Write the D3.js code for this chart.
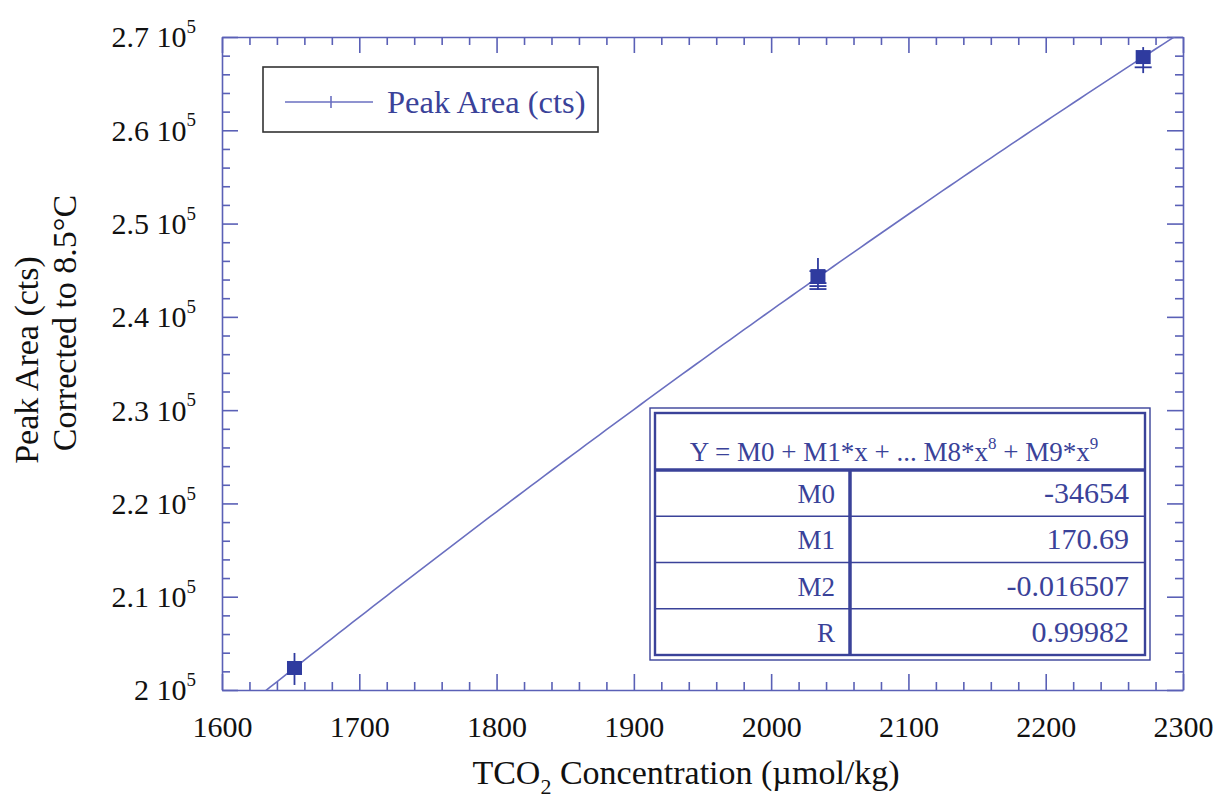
<!DOCTYPE html>
<html>
<head>
<meta charset="utf-8">
<script src="https://cdn.jsdelivr.net/npm/d3@7"></script>
<style>
  html, body { margin: 0; padding: 0; background: #fff; }
  svg text { font-family: "Liberation Serif", "DejaVu Serif", serif; }
</style>
</head>
<body>
<div id="chart"></div>
<script>
// data
const meanX = [1652.8, 2034.1, 2271.0];
const meanY = [202360, 244370, 267850];
const errLow = [200540, 242870, 266130];
const errHigh = [203970, 246300, 268920];
const repX = [2034.1, 2034.1, 2034.1, 2034.1, 2271.0];
const repY = [244900, 243620, 243300, 242980, 266750];

const fitNames = ["M0", "M1", "M2", "R"];
const fitValues = ["-34654", "170.69", "-0.016507", "0.99982"];
const fitCoef = [-34654, 170.69, -0.016507];

const xTicks = [1600, 1700, 1800, 1900, 2000, 2100, 2200, 2300];
const yTicks = [2.0, 2.1, 2.2, 2.3, 2.4, 2.5, 2.6, 2.7];
const yTickLabels = ["2", "2.1", "2.2", "2.3", "2.4", "2.5", "2.6", "2.7"];

var width = 1219;
var height = 809;
var marginTop = 37;
var marginRight = 36;
var marginBottom = 119;
var marginLeft = 222;

const axisColor = "#5a60b6";
const textBlue = "#3a4299";
const markBlue = "#2f3b9f";

const svg = d3.create("svg")
    .attr("width", width)
    .attr("height", height);

const x = d3.scaleLinear()
    .domain([1600, 2300])
    .range([marginLeft, width - marginRight]);

const y = d3.scaleLinear()
    .domain([200000, 270000])
    .range([height - marginBottom, marginTop]);

const xMinor = d3.range(1600, 2301, 20).filter(v => v % 100 !== 0);
const yMinor = d3.range(200000, 270001, 2000).filter(v => v % 10000 !== 0);

// clip for the plot area
svg.append("clipPath").attr("id", "plotClip")
  .append("rect")
    .attr("x", marginLeft).attr("y", marginTop)
    .attr("width", width - marginLeft - marginRight)
    .attr("height", height - marginTop - marginBottom);

function styleAxis(g) {
    g.selectAll("path, line").attr("stroke", axisColor).attr("stroke-width", 1.6);
    g.selectAll("text").attr("fill", "#111").attr("font-size", 30)
        .attr("font-family", "Liberation Serif, serif");
}

// bottom axis
svg.append("g")
    .attr("transform", `translate(0,${height - marginBottom})`)
    .call(d3.axisBottom(x).tickValues(xTicks).tickSizeInner(-16).tickSizeOuter(0).tickPadding(26).tickFormat(d3.format("d")))
    .call(styleAxis);
svg.append("g")
    .attr("transform", `translate(0,${height - marginBottom})`)
    .call(d3.axisBottom(x).tickValues(xMinor).tickSize(-8).tickFormat(""))
    .call(g => g.select(".domain").remove())
    .call(styleAxis);

// top axis
svg.append("g")
    .attr("transform", `translate(0,${marginTop})`)
    .call(d3.axisTop(x).tickValues(xTicks).tickSizeInner(-16).tickSizeOuter(0).tickFormat(""))
    .call(styleAxis);
svg.append("g")
    .attr("transform", `translate(0,${marginTop})`)
    .call(d3.axisTop(x).tickValues(xMinor).tickSize(-8).tickFormat(""))
    .call(g => g.select(".domain").remove())
    .call(styleAxis);

// left axis
const yLeft = svg.append("g")
    .attr("transform", `translate(${marginLeft},0)`)
    .call(d3.axisLeft(y).tickValues(yTicks.map(v => v * 100000)).tickSizeInner(-16).tickSizeOuter(0).tickPadding(26))
    .call(styleAxis);
yLeft.selectAll(".tick text")
    .attr("dy", "0.33em")
    .each(function(d, i) {
        const t = d3.select(this);
        t.text(null);
        t.append("tspan").text(yTickLabels[i] + " 10");
        t.append("tspan").attr("font-size", 19).attr("dy", "-0.75em").text("5");
    });
svg.append("g")
    .attr("transform", `translate(${marginLeft},0)`)
    .call(d3.axisLeft(y).tickValues(yMinor).tickSize(-8).tickFormat(""))
    .call(g => g.select(".domain").remove())
    .call(styleAxis);

// right axis
svg.append("g")
    .attr("transform", `translate(${width - marginRight},0)`)
    .call(d3.axisRight(y).tickValues(yTicks.map(v => v * 100000)).tickSizeInner(-16).tickSizeOuter(0).tickFormat(""))
    .call(styleAxis);
svg.append("g")
    .attr("transform", `translate(${width - marginRight},0)`)
    .call(d3.axisRight(y).tickValues(yMinor).tickSize(-8).tickFormat(""))
    .call(g => g.select(".domain").remove())
    .call(styleAxis);

// fitted curve from the coefficients in the table
const fitX = d3.range(1600, 2301, 5);
const fitLine = d3.line()
    .x(d => x(d))
    .y(d => y(fitCoef[0] + fitCoef[1] * d + fitCoef[2] * d * d));
svg.append("path")
    .datum(fitX)
    .attr("clip-path", "url(#plotClip)")
    .attr("d", fitLine)
    .attr("fill", "none")
    .attr("stroke", "#6a6fc0")
    .attr("stroke-width", 1.6);

// error bars
const points = meanX.map((v, i) => ({x: v, y: meanY[i], lo: errLow[i], hi: errHigh[i]}));
svg.append("g")
    .selectAll("line")
    .data(points)
    .join("line")
      .attr("x1", d => x(d.x)).attr("x2", d => x(d.x))
      .attr("y1", d => y(d.lo)).attr("y2", d => y(d.hi))
      .attr("stroke", markBlue)
      .attr("stroke-width", 1.8);

// replicate marks
svg.append("g")
    .selectAll("line")
    .data(repX.map((v, i) => ({x: v, y: repY[i]})))
    .join("line")
      .attr("x1", d => x(d.x) - 8.5).attr("x2", d => x(d.x) + 8.5)
      .attr("y1", d => y(d.y)).attr("y2", d => y(d.y))
      .attr("stroke", markBlue)
      .attr("stroke-width", 1.8);

// squares
svg.append("g")
    .selectAll("rect")
    .data(points)
    .join("rect")
      .attr("x", d => x(d.x) - 7.5)
      .attr("y", d => y(d.y) - 7)
      .attr("width", 15)
      .attr("height", 14)
      .attr("fill", markBlue);

// legend
const legend = svg.append("g");
legend.append("rect")
    .attr("x", 263).attr("y", 67)
    .attr("width", 335).attr("height", 65)
    .attr("fill", "#fff")
    .attr("stroke", "#333")
    .attr("stroke-width", 1.6);
legend.append("line")
    .attr("x1", 285).attr("x2", 373).attr("y1", 102).attr("y2", 102)
    .attr("stroke", "#6a6fc0").attr("stroke-width", 1.6);
legend.append("line")
    .attr("x1", 331).attr("x2", 331).attr("y1", 96).attr("y2", 108)
    .attr("stroke", "#6a6fc0").attr("stroke-width", 1.6);
legend.append("text")
    .attr("x", 387).attr("y", 113)
    .attr("font-size", 32.5)
    .attr("fill", textBlue)
    .text("Peak Area (cts)");

// fit table
const tbl = svg.append("g");
const tLeft = 650, tRight = 1150, tTop = 408, tBottom = 660;
const headBottom = 470, rowH = (655 - headBottom) / fitNames.length;
tbl.append("rect").attr("x", tLeft).attr("y", tTop)
    .attr("width", tRight - tLeft).attr("height", tBottom - tTop)
    .attr("fill", "#fff").attr("stroke", textBlue).attr("stroke-width", 1.4);
tbl.append("rect").attr("x", tLeft + 5).attr("y", tTop + 5)
    .attr("width", tRight - tLeft - 10).attr("height", tBottom - tTop - 10)
    .attr("fill", "none").attr("stroke", textBlue).attr("stroke-width", 2.4);
tbl.append("line").attr("x1", tLeft + 5).attr("x2", tRight - 5)
    .attr("y1", headBottom).attr("y2", headBottom)
    .attr("stroke", textBlue).attr("stroke-width", 3.5);
tbl.append("line").attr("x1", 850).attr("x2", 850)
    .attr("y1", headBottom).attr("y2", tBottom - 5)
    .attr("stroke", textBlue).attr("stroke-width", 3.5);
tbl.selectAll(".rowline")
    .data(fitNames.slice(1))
    .join("line")
      .attr("x1", tLeft + 5).attr("x2", tRight - 5)
      .attr("y1", (d, i) => headBottom + rowH * (i + 1))
      .attr("y2", (d, i) => headBottom + rowH * (i + 1))
      .attr("stroke", textBlue).attr("stroke-width", 1.4);

const head = tbl.append("text")
    .attr("x", (tLeft + tRight) / 2 - 6).attr("y", 461)
    .attr("text-anchor", "middle")
    .attr("font-size", 27)
    .attr("fill", textBlue);
head.append("tspan").text("Y = M0 + M1*x + ... M8*x");
head.append("tspan").attr("font-size", 17).attr("dy", "-0.7em").text("8");
head.append("tspan").attr("dy", "0.45em").text(" + M9*x");
head.append("tspan").attr("font-size", 17).attr("dy", "-0.7em").text("9");

tbl.selectAll(".nm")
    .data(fitNames)
    .join("text")
      .attr("x", 835)
      .attr("y", (d, i) => headBottom + rowH * i + 33)
      .attr("text-anchor", "end")
      .attr("font-size", 27)
      .attr("fill", textBlue)
      .text(d => d);
tbl.selectAll(".val")
    .data(fitValues)
    .join("text")
      .attr("x", 1129)
      .attr("y", (d, i) => headBottom + rowH * i + 33)
      .attr("text-anchor", "end")
      .attr("font-size", 30)
      .attr("fill", textBlue)
      .text(d => d);

// axis titles
const xt = svg.append("text")
    .attr("x", 686).attr("y", 784)
    .attr("text-anchor", "middle")
    .attr("font-size", 34)
    .attr("fill", "#111");
xt.append("tspan").text("TCO");
xt.append("tspan").attr("font-size", 22).attr("dy", "0.45em").text("2");
xt.append("tspan").attr("dy", "-0.3em").text(" Concentration (µmol/kg)");

svg.append("text")
    .attr("transform", "translate(38,360) rotate(-90)")
    .attr("text-anchor", "middle")
    .attr("font-size", 34)
    .attr("fill", "#111")
    .text("Peak Area (cts)");
svg.append("text")
    .attr("transform", "translate(76,323) rotate(-90)")
    .attr("text-anchor", "middle")
    .attr("font-size", 34)
    .attr("fill", "#111")
    .text("Corrected to 8.5°C");

document.getElementById("chart").appendChild(svg.node());
</script>
</body>
</html>
